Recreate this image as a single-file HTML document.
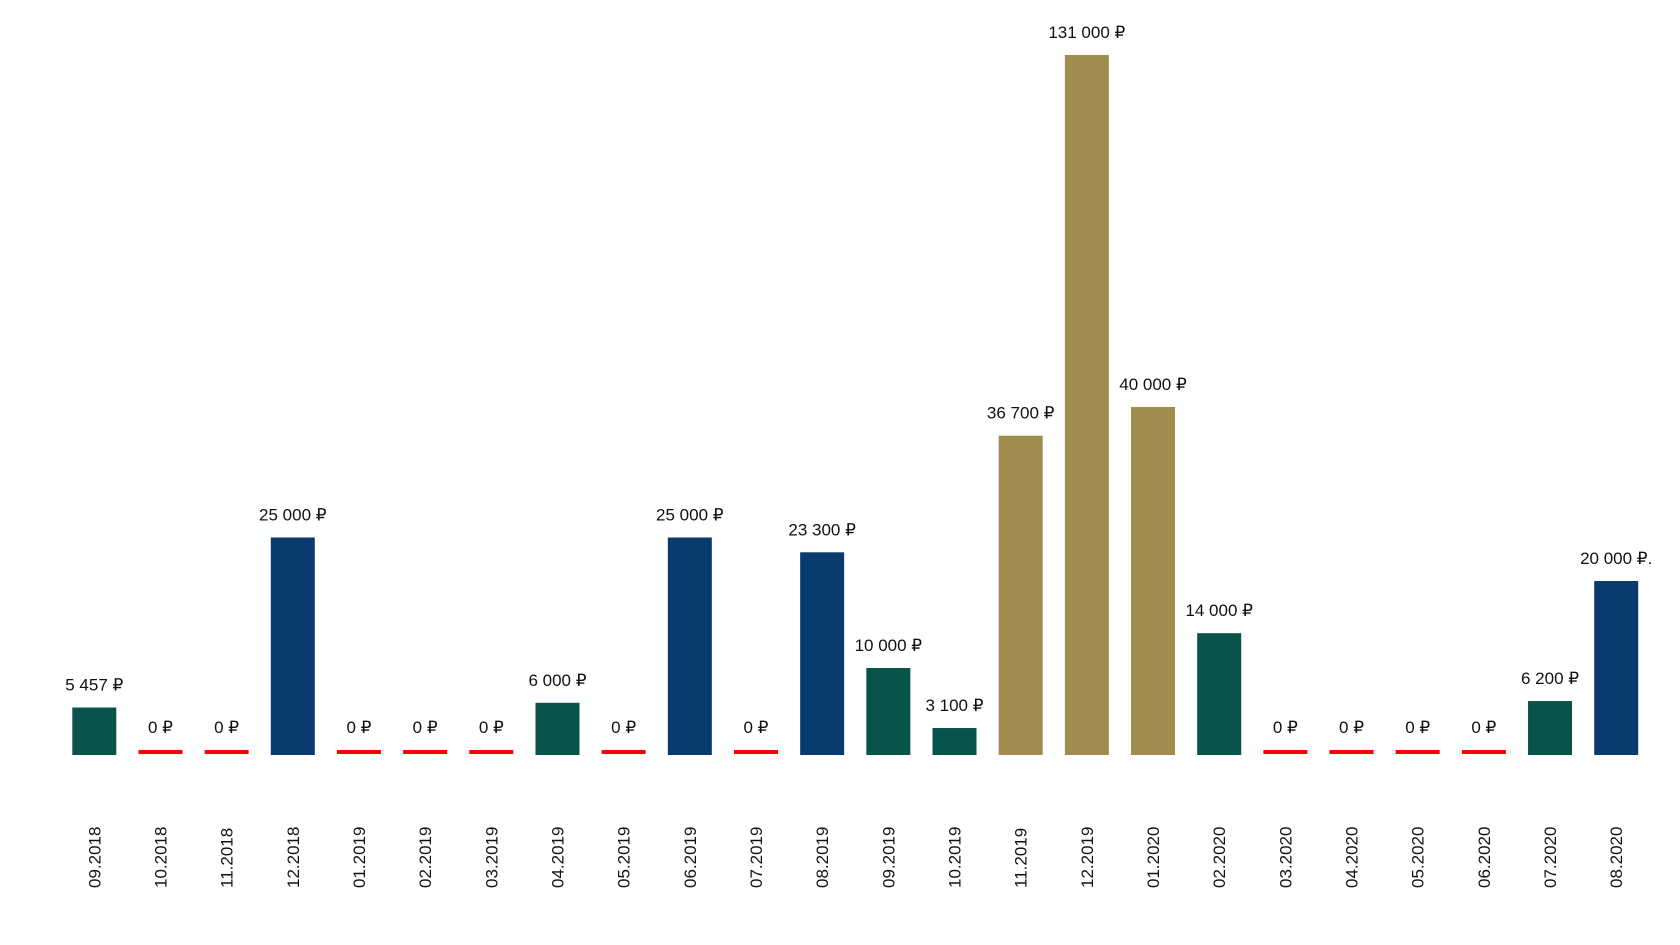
<!DOCTYPE html>
<html><head><meta charset="utf-8"><style>
html,body{margin:0;padding:0;background:#fff;}
svg{display:block;font-family:"Liberation Sans",sans-serif;}
</style></head><body>
<svg id="chart" width="1680" height="945" viewBox="0 0 1680 945" xmlns="http://www.w3.org/2000/svg"></svg>
<script>
const categories=["09.2018","10.2018","11.2018","12.2018","01.2019","02.2019","03.2019","04.2019","05.2019","06.2019","07.2019","08.2019","09.2019","10.2019","11.2019","12.2019","01.2020","02.2020","03.2020","04.2020","05.2020","06.2020","07.2020","08.2020"];
const values=[5457,0,0,25000,0,0,0,6000,0,25000,0,23300,10000,3100,36700,131000,40000,14000,0,0,0,0,6200,20000];
const valueLabels=["5 457 ₽","0 ₽","0 ₽","25 000 ₽","0 ₽","0 ₽","0 ₽","6 000 ₽","0 ₽","25 000 ₽","0 ₽","23 300 ₽","10 000 ₽","3 100 ₽","36 700 ₽","131 000 ₽","40 000 ₽","14 000 ₽","0 ₽","0 ₽","0 ₽","0 ₽","6 200 ₽","20 000 ₽."];
const groups=["g","z","z","b","z","z","z","g","z","b","z","b","g","g","y","y","y","g","z","z","z","z","g","b"];
const colors={g:"#08534a",b:"#0a3b6e",y:"#a08c4e",z:"#ff0000"};
const svg=document.getElementById('chart');
const NS="http://www.w3.org/2000/svg";
const baseY=755, k=0.0087, cap=700, x0=94.3, step=66.17, bw=44;
const xPos=i=>x0+i*step;
const hOf=v=>Math.min(v*k,cap);
function mk(tag,attrs){const e=document.createElementNS(NS,tag);for(const a in attrs)e.setAttribute(a,attrs[a]);svg.appendChild(e);return e;}
categories.forEach((c,i)=>{
  const cx=xPos(i), v=values[i];
  let top;
  if(v===0){
    const r=mk('rect',{x:cx-bw/2,y:baseY-5,width:bw,height:4,fill:colors.z});
    
    
    top=baseY-5;
  }else{
    const h=hOf(v);
    const r=mk('rect',{x:cx-bw/2,y:baseY-h,width:bw,height:h,fill:colors[groups[i]]});
    
    
    top=baseY-h;
  }
  const t=mk('text',{x:cx,y:top-17,'text-anchor':'middle','font-size':'17',fill:'#111'});
  t.textContent=valueLabels[i];
  
  
  const d=mk('text',{x:0,y:0,'text-anchor':'start','font-size':'17',fill:'#111',transform:`translate(${cx+6},888) rotate(-90)`});
  d.textContent=c;
  
  
});
</script>
</body></html>
